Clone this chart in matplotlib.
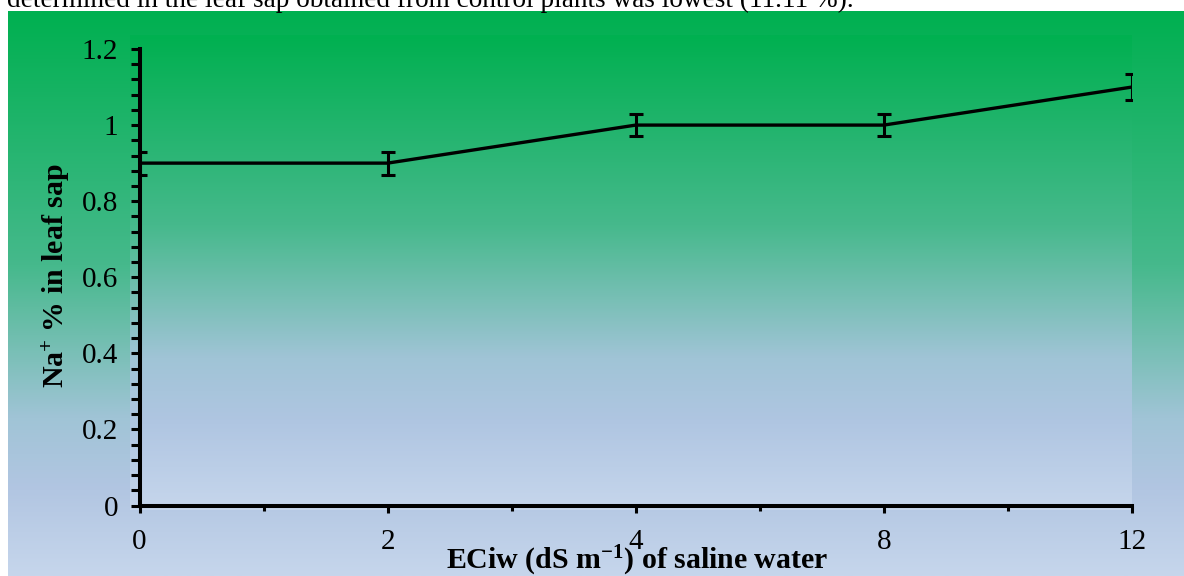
"""Na+ % in leaf sap vs ECiw of saline water (Excel-style gradient chart)."""

import numpy as np
import matplotlib

matplotlib.use("Agg")
import matplotlib.pyplot as plt
from matplotlib.ticker import MultipleLocator

plt.rcParams["font.family"] = ["Liberation Serif", "DejaVu Serif"]
plt.rcParams["mathtext.fontset"] = "custom"
plt.rcParams["mathtext.rm"] = "Liberation Serif"
plt.rcParams["mathtext.bf"] = "Liberation Serif:bold"
plt.rcParams["mathtext.it"] = "Liberation Serif:italic"

# data
eciw_labels = ["0", "2", "4", "8", "12"]
na_percent = [0.9, 0.9, 1.0, 1.0, 1.1]
na_error = [0.03, 0.03, 0.03, 0.03, 0.035]
y_ticks = [0, 0.2, 0.4, 0.6, 0.8, 1.0, 1.2]

caption = "determined in the leaf sap obtained from control plants was lowest (11.11 %)."

W, H = 1184, 576


def px_box(x0, y0, x1, y1):
    """Pixel box (top-left origin) -> figure fraction rect."""
    return [x0 / W, 1 - y1 / H, (x1 - x0) / W, (y1 - y0) / H]


def gradient(stops, n=256):
    pos = np.array([s[0] for s in stops])
    cols = np.array([s[1] for s in stops], dtype=float) / 255.0
    t = np.linspace(0, 1, n)
    img = np.stack([np.interp(t, pos, cols[:, k]) for k in range(3)], axis=-1)
    return img[:, None, :]


fig = plt.figure(figsize=(W / 100, H / 100), dpi=100)
fig.patch.set_facecolor("white")

# chart area background
chart_stops = [(0.0, (0, 176, 80)), (0.45, (70, 185, 140)),
               (0.72, (160, 196, 214)), (0.85, (178, 198, 226)), (1.0, (198, 214, 236))]
bg = fig.add_axes(px_box(8, 11, W, H))
bg.imshow(gradient(chart_stops), aspect="auto", extent=[0, 1, 0, 1], origin="upper")
bg.set_axis_off()

# plot area background
plot_stops = [(0.0, (0, 176, 80)), (0.4, (70, 185, 140)),
              (0.68, (160, 196, 214)), (0.82, (176, 198, 226)), (1.0, (198, 214, 236))]
pa = fig.add_axes(px_box(130, 35, 1132, 510))
pa.imshow(gradient(plot_stops), aspect="auto", extent=[0, 1, 0, 1], origin="upper")
pa.set_axis_off()

ax = fig.add_axes(px_box(139.5, 49, 1132, 505.5))
ax.patch.set_visible(False)

x = np.arange(len(eciw_labels))
ax.errorbar(x, na_percent, yerr=na_error, color="black", lw=2.4,
            capsize=5, capthick=2.2, elinewidth=2.2, zorder=3, clip_on=True)

ax.set_xlim(0, len(eciw_labels) - 1)
ax.set_ylim(0, 1.2)
ax.set_xticks(x)
ax.set_xticklabels(eciw_labels)
ax.set_xticks(x[:-1] + 0.5, minor=True)
ax.set_yticks(y_ticks)
ax.set_yticklabels([f"{v:g}" for v in y_ticks])
ax.yaxis.set_minor_locator(MultipleLocator(0.04))

for side in ("top", "right"):
    ax.spines[side].set_visible(False)
for side in ("left", "bottom"):
    ax.spines[side].set_linewidth(2.9)
    ax.spines[side].set_color("black")

ax.tick_params(axis="y", which="both", direction="out", length=6.5, width=2.2,
               labelsize=21, pad=9)
ax.tick_params(axis="x", which="major", direction="out", length=5, width=2.2,
               labelsize=21, pad=12)
ax.tick_params(axis="x", which="minor", direction="out", length=3.5, width=2.2)

fig.text(56 / W, 1 - 276 / H, r"Na$^{\mathbf{+}}$ % in leaf sap", rotation=90,
         ha="center", va="center", fontsize=21.5, fontweight="bold")
fig.text(637 / W, 1 - 568.5 / H, r"ECiw (dS m$^{\mathbf{-1}}$) of saline water",
         ha="center", va="baseline", fontsize=21.5, fontweight="bold")

fig.text(7 / W, 1 - 7 / H, caption, ha="left", va="baseline", fontsize=19.6)

fig.savefig("out.png", dpi=100)
